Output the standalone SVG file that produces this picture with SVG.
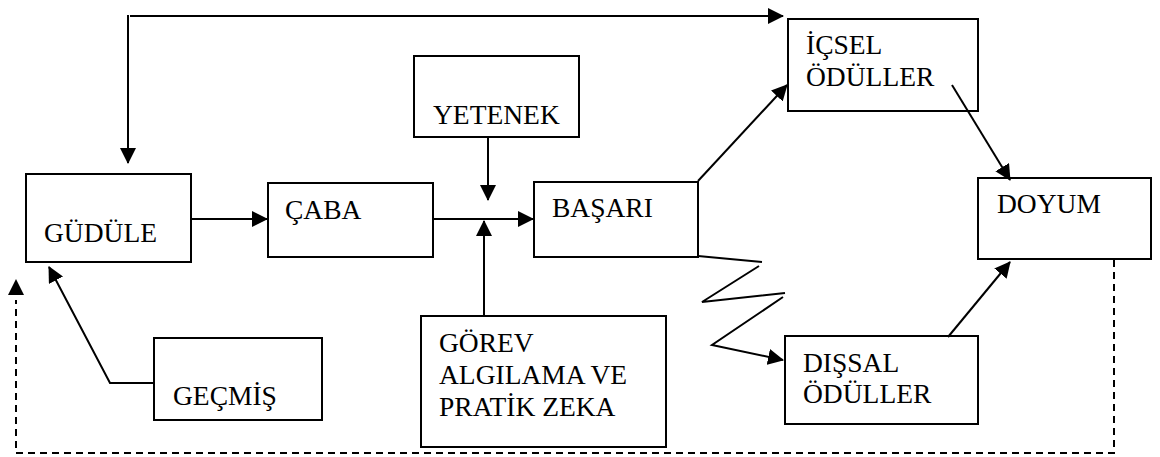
<svg xmlns="http://www.w3.org/2000/svg" width="1160" height="457" viewBox="0 0 1160 457">
<defs>
<marker id="ah" markerUnits="userSpaceOnUse" markerWidth="16" markerHeight="16" viewBox="0 0 16 16" refX="15" refY="8" orient="auto">
<path d="M0,0 L16,8 L0,16 Z" fill="#000"/>
</marker>
</defs>
<style>
.box{fill:none;stroke:#000;stroke-width:2}
.t{font-family:"Liberation Serif","Times New Roman",serif;font-size:27.5px;fill:#000}
.c{fill:none;stroke:#000;stroke-width:2}
.d{fill:none;stroke:#000;stroke-width:2;stroke-dasharray:7,5}
</style>
<rect width="1160" height="457" fill="#fff"/>
<g id="gudule"><rect class="box" x="26" y="174" width="165" height="88"/><text class="t" x="44" y="242">GÜDÜLE</text></g>
<g id="caba"><rect class="box" x="268" y="183" width="165" height="74"/><text class="t" x="285" y="219">ÇABA</text></g>
<g id="yetenek"><rect class="box" x="414" y="56" width="165" height="81"/><text class="t" x="433" y="124">YETENEK</text></g>
<g id="basari"><rect class="box" x="534" y="182" width="164" height="75"/><text class="t" x="552" y="217">BAŞARI</text></g>
<g id="gorev"><rect class="box" x="421" y="316" width="245" height="131"/><text class="t" x="439" y="352">GÖREV</text><text class="t" x="439" y="384">ALGILAMA VE</text><text class="t" x="439" y="416">PRATİK ZEKA</text></g>
<g id="icsel"><rect class="box" x="788" y="19" width="190" height="92"/><text class="t" x="806" y="54">İÇSEL</text><text class="t" x="806" y="86">ÖDÜLLER</text></g>
<g id="doyum"><rect class="box" x="978" y="178" width="173" height="81"/><text class="t" x="997" y="213">DOYUM</text></g>
<g id="dissal"><rect class="box" x="785" y="336" width="193" height="88"/><text class="t" x="803" y="372">DIŞSAL</text><text class="t" x="803" y="403">ÖDÜLLER</text></g>
<g id="gecmis"><rect class="box" x="154" y="338" width="168" height="82"/><text class="t" x="173" y="405">GEÇMİŞ</text></g>
<g id="connectors">
<polyline class="c" points="130,16 783,16" marker-end="url(#ah)"/>
<line class="c" x1="128" y1="15" x2="128" y2="163" marker-end="url(#ah)"/>
<line class="c" x1="192" y1="219" x2="267" y2="219" marker-end="url(#ah)"/>
<line class="c" x1="433" y1="219" x2="533" y2="219" marker-end="url(#ah)"/>
<line class="c" x1="488" y1="137" x2="488" y2="200" marker-end="url(#ah)"/>
<line class="c" x1="484" y1="316" x2="484" y2="221" marker-end="url(#ah)"/>
<line class="c" x1="698" y1="181" x2="787" y2="85" marker-end="url(#ah)"/>
<line class="c" x1="952" y1="85" x2="1010" y2="180" marker-end="url(#ah)"/>
<line class="c" x1="948" y1="337" x2="1010" y2="262" marker-end="url(#ah)"/>
<polyline class="c" points="698,256 762,262"/>
<polyline class="c" points="759,266 702,302 785,293"/>
<polyline class="c" points="783,297 712,345 783,360" marker-end="url(#ah)"/>
<polyline class="c" points="154,383 110,383 49,267" marker-end="url(#ah)"/>
<polyline class="d" points="1114,260 1114,453 16,453 16,300"/>
<path d="M16,279 L24,295 L8,295 Z" fill="#000"/>
</g>
</svg>
